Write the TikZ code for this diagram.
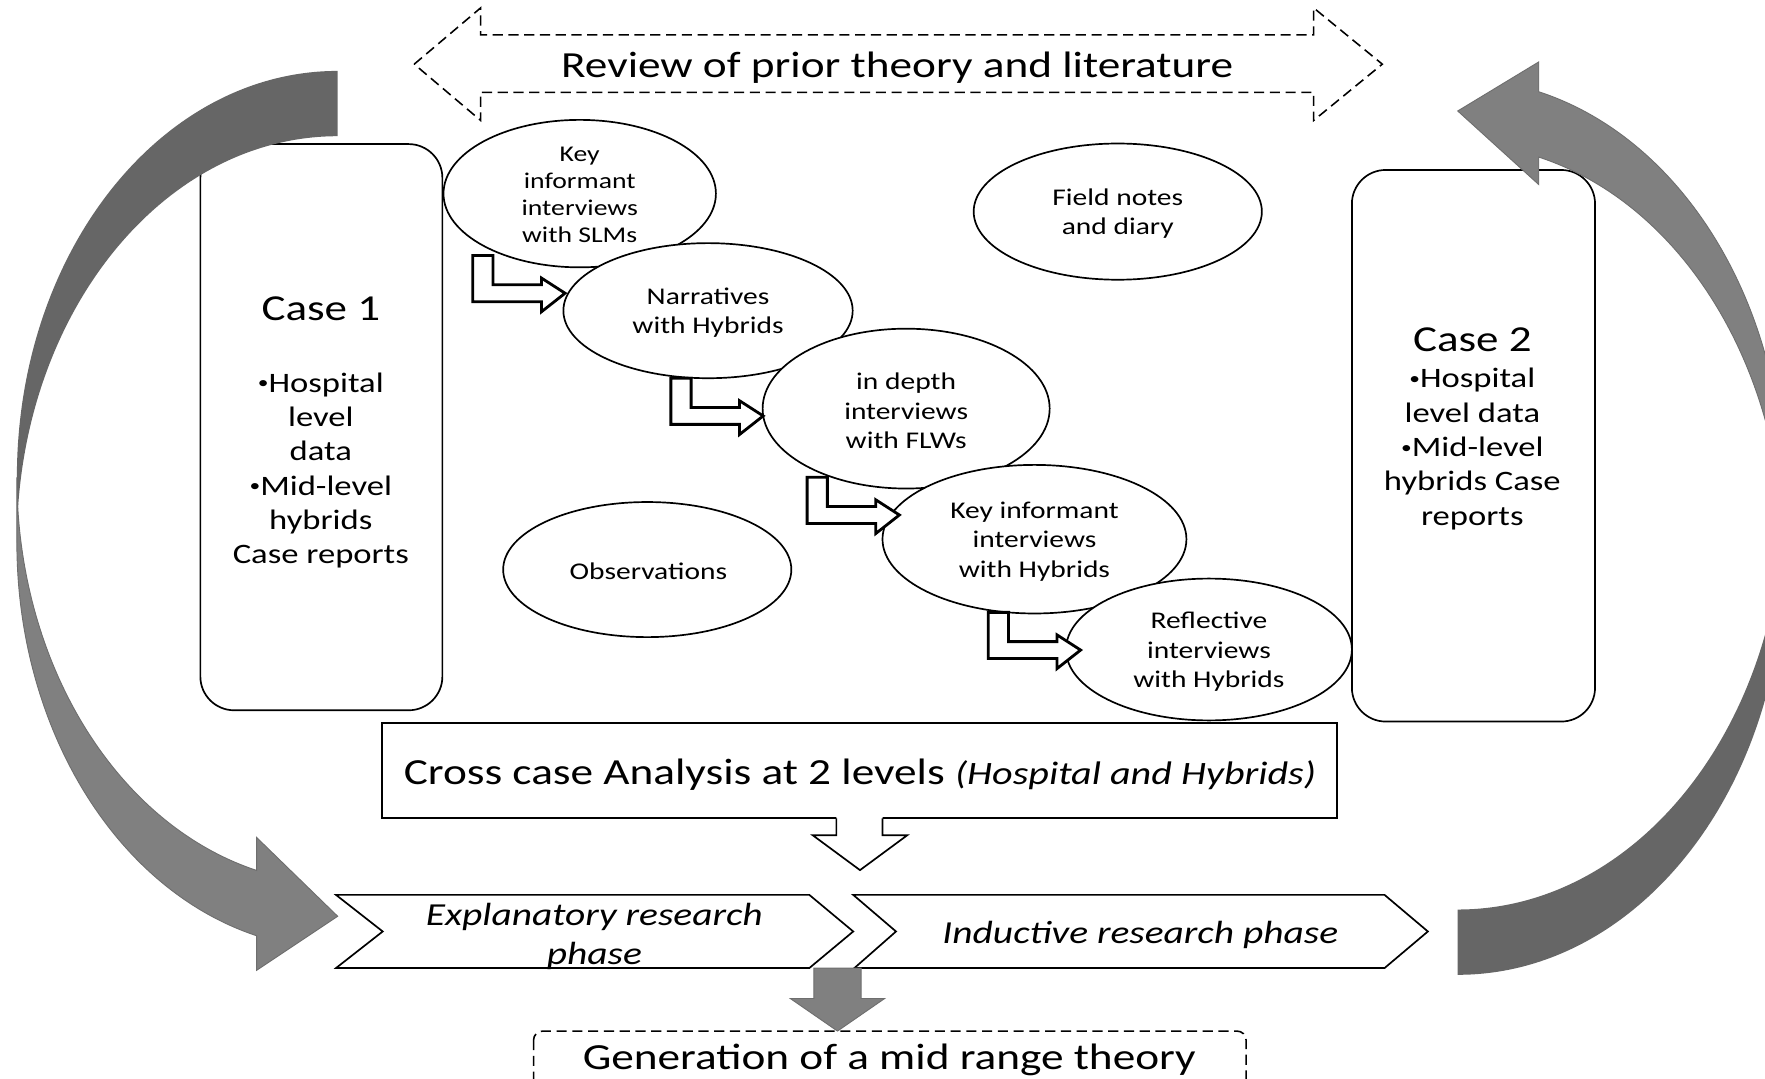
\documentclass[tikz,border=0pt]{standalone}
\usepackage{fontspec}
\usepackage{graphicx}
\setmainfont{Carlito}[FakeStretch=1.23]
\usetikzlibrary{shapes.geometric}
\definecolor{backg}{HTML}{666666}
\definecolor{frontg}{HTML}{808080}
\definecolor{edgeg}{HTML}{6E6E6E}
\newcommand{\smbul}{\raisebox{0.12em}{\scalebox{0.62}{•}}}
\tikzset{
  ell/.style={draw=black, fill=white, ellipse, line width=1.5, inner sep=0},
  etext/.style={align=center, inner sep=0, font=\fontsize{21.3}{26}\selectfont},
  casebox/.style={draw=black, line width=1.5, rounded corners=30, fill=white, inner sep=0},
  casetitle/.style={inner sep=0, font=\fontsize{32.5}{40}\selectfont},
  casebody/.style={align=center, inner sep=0, font=\fontsize{25}{30.5}\selectfont},
  bentarrow/.style={draw=black, fill=white, line width=2.5, line join=miter},
  chev/.style={draw=black, fill=white, line width=1.5},
  dashline/.style={draw=black, line width=1.4, dash pattern=on 9pt off 5pt},
  bigtext/.style={inner sep=0, font=\fontsize{32.7}{40}\selectfont},
  phasetext/.style={align=center, inner sep=0, font=\fontsize{28.5}{35}\selectfont\itshape},
}
\begin{document}
\begin{tikzpicture}[x=1pt,y=-1pt]
\clip (0,0) rectangle (1568,958);
\fill[white] (0,0) rectangle (1568,958);

% Review double arrow
\draw[dashline] (368,57) -- (427,7) -- (427,31) -- (1167,31) -- (1167,7) -- (1228,57)
  -- (1167,107) -- (1167,82) -- (427,82) -- (427,107) -- cycle;
\node[bigtext] (review) at (797,60) {Review of prior theory and literature};

% Case boxes
\node[casebox, minimum width=215, minimum height=503] (case1) at (285.5,379.5) {};
\node[casetitle] (case1t) at (285,274.5) {Case 1};
\node[casebody] (case1b) at (285,418) {\smbul Hospital\\level\\data\\\smbul Mid-level\\hybrids\\Case reports};

\node[casebox, minimum width=216, minimum height=490] (case2) at (1309,396) {};
\node[casetitle] (case2t) at (1308,301.5) {Case 2};
\node[casebody] (case2b) at (1308,399) {\smbul Hospital\\level data\\\smbul Mid-level\\hybrids Case\\reports};

% Ellipses
\node[ell, minimum width=242, minimum height=131] (e1) at (515,172) {};
\node[etext, font=\fontsize{20}{24}\selectfont] (e1t) at (515,173.5) {Key\\informant\\interviews\\with SLMs};
\node[ell, minimum width=257, minimum height=120] (e2) at (629,276) {};
\node[etext] (e2t) at (629,278) {Narratives\\with Hybrids};
\node[ell, minimum width=255, minimum height=142] (e3) at (805,363) {};
\node[etext] (e3t) at (805,365) {in depth\\interviews\\with FLWs};
\node[ell, minimum width=270, minimum height=132] (e4) at (919,479) {};
\node[etext] (e4t) at (919,481) {Key informant\\interviews\\with Hybrids};
\node[ell, minimum width=254, minimum height=126] (e5) at (1074,577) {};
\node[etext] (e5t) at (1074,579) {Reflective\\interviews\\with Hybrids};
\node[ell, minimum width=256, minimum height=121] (field) at (993,188) {};
\node[etext] (fieldt) at (993,190) {Field notes\\and diary};
\node[ell, minimum width=256, minimum height=120] (obs) at (575,506) {};
\node[etext] (obst) at (576,507.5) {Observations};

% bent arrows
\foreach \bx/\by in {420/227, 596/336, 717/424, 878/544}{
  \draw[bentarrow, shift={(\bx,\by)}] (0,0) -- (18,0) -- (18,26) -- (61,26) -- (61,20)
    -- (82,33.5) -- (61,50) -- (61,41) -- (0,41) -- cycle;
}

% Cross case box
\node[draw=black, line width=1.8, fill=white, minimum width=849, minimum height=85, inner sep=0] (cross) at (763.5,684.5) {};
\node[inner sep=0] (crosst) at (764,688) {\fontsize{32.7}{40}\selectfont Cross case Analysis at 2 levels \fontsize{29}{35}\selectfont\itshape(Hospital and Hybrids)};

% hollow down arrow
\fill[white] (743,726) -- (743,742) -- (722,742) -- (764,773) -- (806,742) -- (784,742) -- (784,726) -- cycle;
\draw[line width=1.5, line join=miter] (743,727) -- (743,742) -- (722,742) -- (764,773) -- (806,742) -- (784,742) -- (784,727);

% chevrons
\draw[chev] (298.5,795) -- (719,795) -- (758,827.5) -- (719,860) -- (298.5,860) -- (340,827.5) -- cycle;
\node[phasetext] (expl) at (528,832) {Explanatory research\\phase};
\draw[chev] (758,795) -- (1230,795) -- (1268.5,827.5) -- (1230,860) -- (759,860) -- (796,827.5) -- cycle;
\node[phasetext] (induct) at (1013,830.5) {Inductive research phase};

% generation box
\draw[dashline, rounded corners=8, fill=white] (474,916) rectangle (1107,1000);
\node[bigtext] (gen) at (790,942) {Generation of a mid range theory};

% gray down arrow
\filldraw[fill=frontg, draw=edgeg, line width=0.8] (723,860) -- (765,860) -- (765,887) -- (786,887) -- (744,916) -- (702,887) -- (723,887) -- cycle;

% big left curved arrow
\fill[backg] (300,63) arc[start angle=-90, end angle=-180, x radius=285, y radius=361]
  -- (15,482) arc[start angle=180, end angle=270, x radius=285, y radius=361] -- cycle;
\filldraw[fill=frontg, draw=edgeg, line width=0.8] (15,424)
  arc[start angle=180, end angle={180-acos(72/285)}, x radius=285, y radius=361]
  -- (228,744) -- (300,814) -- (228,862) -- (228,831.3)
  arc[start angle={180-acos(72/285)}, end angle=180, x radius=285, y radius=361] -- cycle;

% big right curved arrow
\fill[backg] (1295,866) arc[start angle=90, end angle=0, x radius=290, y radius=369]
  -- (1585,439) arc[start angle=0, end angle=90, x radius=290, y radius=369] -- cycle;
\filldraw[fill=frontg, draw=edgeg, line width=0.8] (1585,497)
  arc[start angle=0, end angle={-acos(72/290)}, x radius=290, y radius=369]
  -- (1367,164) -- (1295,98.6) -- (1367,55) -- (1367,81.5)
  arc[start angle={-acos(72/290)}, end angle=0, x radius=290, y radius=369] -- cycle;
\end{tikzpicture}
\end{document}
